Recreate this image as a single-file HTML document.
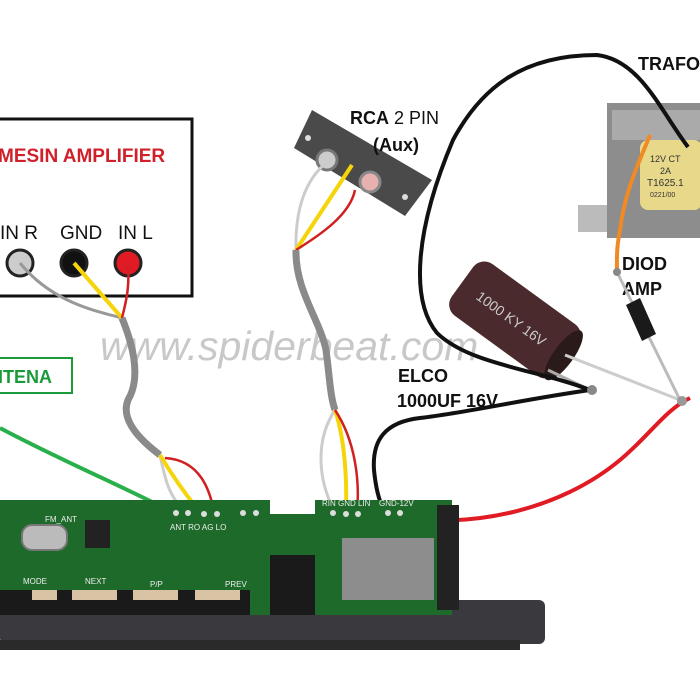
<!DOCTYPE html>
<html><head><meta charset="utf-8"><style>
html,body{margin:0;padding:0;background:#fff}
svg{display:block}
text{font-family:"Liberation Sans",sans-serif}
</style></head><body>
<svg width="700" height="699" viewBox="0 0 700 699" xmlns="http://www.w3.org/2000/svg">
<rect width="700" height="699" fill="#fff"/>

<!-- Amplifier box -->
<rect x="-5" y="119" width="197" height="177" fill="#fff" stroke="#111" stroke-width="3"/>
<text x="-2" y="162" font-size="19" font-weight="bold" fill="#d0202a">MESIN AMPLIFIER</text>
<text x="0" y="239" font-size="19" fill="#111">IN R</text>
<text x="60" y="239" font-size="19" fill="#111">GND</text>
<text x="118" y="239" font-size="19" fill="#111">IN L</text>
<circle cx="20" cy="263" r="13" fill="#ccc" stroke="#222" stroke-width="3"/>
<circle cx="74" cy="263" r="13" fill="#111" stroke="#222" stroke-width="3"/>
<circle cx="128" cy="263" r="13" fill="#e01b24" stroke="#222" stroke-width="3"/>

<!-- ANTENA -->
<rect x="-5" y="358" width="77" height="35" fill="#fff" stroke="#1a9a3a" stroke-width="2"/>
<text x="-2" y="383" font-size="18" font-weight="bold" fill="#1a9a3a">ITENA</text>

<!-- watermark -->
<text x="100" y="360" font-size="41" font-style="italic" fill="#bbb" opacity="0.8">www.spiderbeat.com</text>

<!-- Transformer -->
<polygon points="578,205 612,205 612,232 578,232" fill="#bbb"/>
<rect x="607" y="103" width="95" height="135" fill="#8d8d8d"/>
<rect x="612" y="110" width="90" height="30" fill="#aaa"/>
<rect x="640" y="140" width="62" height="70" rx="8" fill="#e8d98a"/>
<text x="650" y="162" font-size="9" fill="#333">12V CT</text>
<text x="660" y="174" font-size="9" fill="#333">2A</text>
<text x="647" y="186" font-size="10" fill="#333">T1625.1</text>
<text x="650" y="197" font-size="7" fill="#333">0221/00</text>
<text x="638" y="70" font-size="18" font-weight="bold" fill="#111">TRAFO</text>
<text x="622" y="270" font-size="18" font-weight="bold" fill="#111">DIOD</text>
<text x="622" y="295" font-size="18" font-weight="bold" fill="#111">AMP</text>

<!-- RCA plate -->
<polygon points="312,110 432,180 405,216 294,148" fill="#4a4a4a"/>
<circle cx="327" cy="160" r="10" fill="#ccc" stroke="#777" stroke-width="3"/>
<circle cx="370" cy="182" r="10" fill="#e9b0b0" stroke="#888" stroke-width="3"/>
<circle cx="308" cy="138" r="3" fill="#ddd"/><circle cx="405" cy="197" r="3" fill="#ddd"/>
<text x="350" y="124" font-size="18" fill="#111"><tspan font-weight="bold">RCA</tspan> 2 PIN</text>
<text x="373" y="151" font-size="18" font-weight="bold" fill="#111">(Aux)</text>

<!-- Capacitor -->
<g transform="translate(515,320) rotate(-54)">
<rect x="-32" y="-65" width="64" height="130" rx="14" fill="#4a2a2c"/>
<ellipse cx="0" cy="60" rx="30" ry="10" fill="#2a1a1a"/>
<text x="-6" y="-45" font-size="14" fill="#ccc" transform="rotate(90,-6,-45)">1000 KY 16V</text>
</g>
<line x1="548" y1="370" x2="590" y2="390" stroke="#aaa" stroke-width="3"/>
<line x1="565" y1="355" x2="680" y2="400" stroke="#ccc" stroke-width="3"/>
<text x="398" y="382" font-size="18" font-weight="bold" fill="#111">ELCO</text>
<text x="397" y="407" font-size="18" font-weight="bold" fill="#111">1000UF 16V</text>

<!-- Diode -->
<line x1="617" y1="272" x2="680" y2="400" stroke="#bbb" stroke-width="3"/>
<polygon points="626,305 640,298 656,334 642,341" fill="#1a1a1a"/>
<path d="M650,135 C640,160 625,190 620,230 C616,250 617,262 617,272" stroke="#f08a24" stroke-width="4" fill="none"/>
<circle cx="617" cy="272" r="4" fill="#888"/>

<!-- black loop -->
<path d="M590,390 C540,370 470,365 437,333 C410,300 415,230 453,140 C480,90 520,55 597,55 C640,60 660,110 688,147" stroke="#111" stroke-width="4" fill="none"/>
<path d="M590,390 C520,400 470,412 420,418 C385,422 372,440 374,470 C376,490 380,505 386,512" stroke="#111" stroke-width="4" fill="none"/>
<circle cx="592" cy="390" r="5" fill="#888"/>
<!-- red power -->
<path d="M395,516 C470,530 560,510 620,460 C650,435 665,410 690,398" stroke="#e01b24" stroke-width="4" fill="none"/>
<circle cx="682" cy="401" r="5" fill="#999"/>

<!-- RCA cable -->
<path d="M327,162 C305,180 295,210 296,250" stroke="#ccc" stroke-width="3" fill="none"/>
<line x1="352" y1="165" x2="296" y2="250" stroke="#f5d40a" stroke-width="4"/>
<path d="M355,190 C350,215 320,235 296,250" stroke="#d02020" stroke-width="2.5" fill="none"/>
<path d="M296,250 C295,290 320,320 326,350 C330,380 330,395 335,410" stroke="#8a8a8a" stroke-width="7" fill="none"/>
<path d="M335,410 C315,440 318,480 334,510" stroke="#ccc" stroke-width="3" fill="none"/>
<path d="M335,410 C345,440 347,480 346,512" stroke="#f5d40a" stroke-width="4" fill="none"/>
<path d="M335,410 C355,440 360,480 357,512" stroke="#d02020" stroke-width="2.5" fill="none"/>

<!-- Amp cable -->
<path d="M20,263 C50,300 90,310 122,318" stroke="#999" stroke-width="3" fill="none"/>
<line x1="74" y1="263" x2="122" y2="318" stroke="#f5d40a" stroke-width="4"/>
<path d="M128,263 C130,290 125,305 122,318" stroke="#d02020" stroke-width="2.5" fill="none"/>
<path d="M122,318 C135,350 140,380 128,400 C120,420 140,440 160,455" stroke="#8a8a8a" stroke-width="7" fill="none"/>
<path d="M160,455 C165,480 170,500 187,512" stroke="#ccc" stroke-width="3" fill="none"/>
<path d="M160,455 C175,480 190,500 200,512" stroke="#f5d40a" stroke-width="4" fill="none"/>
<path d="M165,458 C200,460 210,490 214,512" stroke="#d02020" stroke-width="2.5" fill="none"/>
<path d="M0,428 C60,460 120,485 172,512" stroke="#2ab04a" stroke-width="4" fill="none"/>

<!-- Board -->
<rect x="0" y="600" width="545" height="44" rx="6" fill="#3a3a3e"/>
<rect x="0" y="640" width="520" height="10" fill="#2a2a2a"/>
<polygon points="0,500 270,500 270,514 315,514 315,500 452,500 452,615 0,615" fill="#1e6a2a"/>
<rect x="0" y="590" width="250" height="25" fill="#1a1a1a"/>
<rect x="270" y="555" width="45" height="60" fill="#1a1a1a"/>
<rect x="437" y="505" width="22" height="105" fill="#222"/>
<rect x="342" y="538" width="92" height="62" fill="#8d8d8d"/>
<rect x="22" y="525" width="45" height="25" rx="10" fill="#bbb" stroke="#777" stroke-width="2"/>
<rect x="85" y="520" width="25" height="28" fill="#222"/>
<rect x="32" y="590" width="25" height="10" fill="#d9c3a5"/>
<rect x="72" y="590" width="45" height="10" fill="#d9c3a5"/>
<rect x="133" y="590" width="45" height="10" fill="#d9c3a5"/>
<rect x="195" y="590" width="45" height="10" fill="#d9c3a5"/>
<g fill="#ddd">
<circle cx="176" cy="513" r="3"/><circle cx="188" cy="513" r="3"/><circle cx="204" cy="514" r="3"/><circle cx="217" cy="514" r="3"/>
<circle cx="243" cy="513" r="3"/><circle cx="256" cy="513" r="3"/>
<circle cx="333" cy="513" r="3"/><circle cx="346" cy="514" r="3"/><circle cx="358" cy="514" r="3"/>
<circle cx="388" cy="513" r="3"/><circle cx="400" cy="513" r="3"/>
</g>
<g fill="#eee" font-size="8">
<text x="45" y="522">FM_ANT</text>
<text x="170" y="530">ANT RO AG LO</text>
<text x="322" y="506">RIN GND LIN</text>
<text x="379" y="506">GND-12V</text>
<text x="23" y="584">MODE</text>
<text x="85" y="584">NEXT</text>
<text x="150" y="587">P/P</text>
<text x="225" y="587">PREV</text>
</g>
</svg>
</body></html>
